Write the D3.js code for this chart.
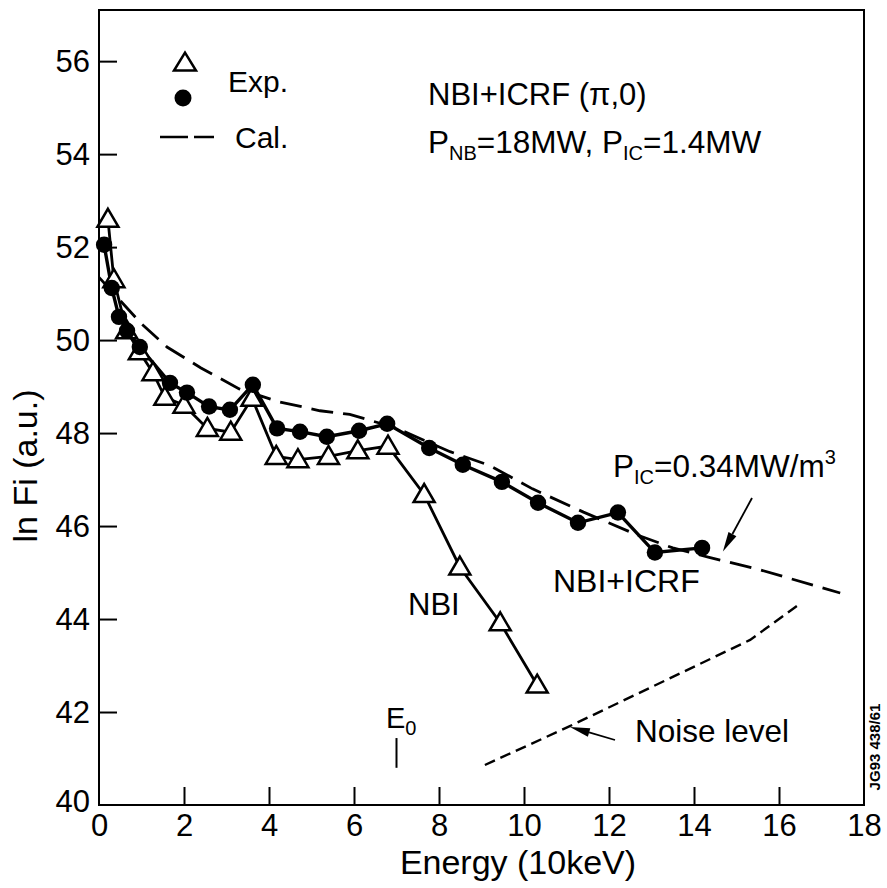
<!DOCTYPE html>
<html>
<head>
<meta charset="utf-8">
<script src="https://cdn.jsdelivr.net/npm/d3@7"></script>
<style>
  html, body { margin: 0; padding: 0; background: #fff; }
  svg { display: block; }
  text { font-family: "Liberation Sans", Arial, Helvetica, sans-serif; fill: #000; }
</style>
</head>
<body>
<svg id="chart" width="887" height="888"></svg>
<script>
// Fast-ion energy spectra: energy in units of 10 keV, ln Fi in arbitrary units.

// NBI only (open triangles)
const nbiEnergy = [0.21, 0.35, 0.65, 0.95, 1.27, 1.55, 2.0, 2.55, 3.1, 3.6, 4.17, 4.68, 5.4, 6.09, 6.8, 7.65, 8.49, 9.44, 10.31];
const nbiLnF    = [52.6, 51.3, 50.2, 49.75, 49.3, 48.77, 48.6, 48.1, 48.02, 48.75, 47.5, 47.43, 47.5, 47.62, 47.72, 46.68, 45.12, 43.92, 42.58];

// NBI + ICRF (filled circles)
const icrfEnergy = [0.12, 0.3, 0.47, 0.66, 0.96, 1.67, 2.07, 2.59, 3.08, 3.62, 4.19, 4.73, 5.36, 6.12, 6.78, 7.77, 8.56, 9.48, 10.33, 11.27, 12.21, 13.08, 14.19];
const icrfLnF    = [52.05, 51.12, 50.5, 50.2, 49.85, 49.08, 48.87, 48.57, 48.5, 49.04, 48.1, 48.03, 47.92, 48.05, 48.2, 47.68, 47.32, 46.95, 46.5, 46.07, 46.29, 45.43, 45.53];

// Calculated spectrum (long dashes)
const calEnergy = [0, 0.5, 1.0, 1.6, 2.4, 3.3, 4.2, 5.2, 5.9, 6.96, 8.26, 9.2, 10.2, 11.4, 12.66, 13.5, 14.38, 15.55, 17.44];
const calLnF    = [51.35, 50.85, 50.35, 49.85, 49.4, 48.95, 48.68, 48.48, 48.4, 48.12, 47.6, 47.3, 46.8, 46.3, 45.81, 45.53, 45.32, 45.06, 44.56];

// Detector noise level (short dashes)
const noiseEnergy = [9.08, 11.04, 15.32, 16.45];
const noiseLnF    = [40.86, 41.68, 43.55, 44.3];

const xTickValues = [0, 2, 4, 6, 8, 10, 12, 14, 16, 18];
const yTickValues = [40, 42, 44, 46, 48, 50, 52, 54, 56];
const E0 = 7.0;               // beam injection energy marker
const picArrowTip = [14.68, 45.45];
const noiseArrowTip = [11.08, 41.68];

const zip = (xs, ys) => xs.map((v, i) => [v, ys[i]]);
const nbi = zip(nbiEnergy, nbiLnF);
const icrf = zip(icrfEnergy, icrfLnF);
const cal = zip(calEnergy, calLnF);
const noise = zip(noiseEnergy, noiseLnF);

const svg = d3.select("#chart");
const plotLeft = 99, plotRight = 864, plotTop = 10, plotBottom = 805;

const x = d3.scaleLinear().domain([0, 18]).range([plotLeft, plotRight]);
const y = d3.scaleLinear().domain([40, 57.1]).range([plotBottom, plotTop]);

const line = d3.line().x(d => x(d[0])).y(d => y(d[1]));

// Frame
svg.append("rect")
  .attr("x", plotLeft).attr("y", plotTop)
  .attr("width", plotRight - plotLeft).attr("height", plotBottom - plotTop)
  .attr("fill", "none").attr("stroke", "#000").attr("stroke-width", 2);

// Axes with inward ticks
const xAxis = d3.axisBottom(x).tickValues(xTickValues).tickFormat(d3.format("d"))
  .tickSizeInner(-18).tickSizeOuter(0).tickPadding(9);
const gx = svg.append("g").attr("transform", `translate(0,${plotBottom})`).call(xAxis);
gx.select(".domain").remove();
gx.selectAll(".tick line").attr("stroke", "#000").attr("stroke-width", 2)
  .attr("display", d => (d === 0 || d === 18) ? "none" : null);
gx.selectAll(".tick text").attr("font-size", 31).attr("fill", "#000");
gx.attr("font-family", null).attr("font-size", null);

const yAxis = d3.axisLeft(y).tickValues(yTickValues).tickFormat(d3.format("d"))
  .tickSizeInner(-18).tickSizeOuter(0).tickPadding(9);
const gy = svg.append("g").attr("transform", `translate(${plotLeft},0)`).call(yAxis);
gy.select(".domain").remove();
gy.selectAll(".tick line").attr("stroke", "#000").attr("stroke-width", 2)
  .attr("display", d => d === 40 ? "none" : null);
gy.selectAll(".tick text").attr("font-size", 31).attr("fill", "#000")
  .attr("dy", d => d === 40 ? "0.22em" : "0.34em");
gy.attr("font-family", null).attr("font-size", null);

// Axis titles
svg.append("text").attr("x", 518).attr("y", 874).attr("text-anchor", "middle")
  .attr("font-size", 34).text("Energy (10keV)");
svg.append("text").attr("transform", "translate(37,466) rotate(-90)")
  .attr("text-anchor", "middle").attr("font-size", 34).text("ln Fi (a.u.)");

// Noise level and calculation
svg.append("path").datum(noise).attr("d", line)
  .attr("fill", "none").attr("stroke", "#000").attr("stroke-width", 2.4)
  .attr("stroke-dasharray", "11,6");
svg.append("path").datum(cal).attr("d", line)
  .attr("fill", "none").attr("stroke", "#000").attr("stroke-width", 2.8)
  .attr("stroke-dasharray", "22,10");

// Connecting lines of measured spectra
svg.append("path").datum(nbi).attr("d", line)
  .attr("fill", "none").attr("stroke", "#000").attr("stroke-width", 2.8);
svg.append("path").datum(icrf).attr("d", line)
  .attr("fill", "none").attr("stroke", "#000").attr("stroke-width", 3.4);

// Markers
const tri = (cx, cy, w, h) =>
  `M${cx},${cy - h * 0.58}L${cx + w / 2},${cy + h * 0.42}L${cx - w / 2},${cy + h * 0.42}Z`;

svg.append("g").selectAll("path").data(nbi).join("path")
  .attr("d", d => tri(x(d[0]), y(d[1]), 21, 18))
  .attr("fill", "#fff").attr("stroke", "#000").attr("stroke-width", 2.5)
  .attr("stroke-linejoin", "miter");

svg.append("g").selectAll("circle").data(icrf).join("circle")
  .attr("cx", d => x(d[0])).attr("cy", d => y(d[1])).attr("r", 8.2)
  .attr("fill", "#000");

// Legend
svg.append("path").attr("d", tri(185, 63, 22, 18))
  .attr("fill", "#fff").attr("stroke", "#000").attr("stroke-width", 2.5);
svg.append("circle").attr("cx", 183).attr("cy", 98).attr("r", 8.5).attr("fill", "#000");
svg.append("line").attr("x1", 160).attr("x2", 214).attr("y1", 137).attr("y2", 137)
  .attr("stroke", "#000").attr("stroke-width", 2.4).attr("stroke-dasharray", "28,6");
svg.append("text").attr("x", 228).attr("y", 92).attr("font-size", 30).text("Exp.");
svg.append("text").attr("x", 235).attr("y", 148).attr("font-size", 30).text("Cal.");

// Discharge conditions
svg.append("text").attr("x", 428).attr("y", 105).attr("font-size", 31).text("NBI+ICRF (\u03c0,0)");
const cond = svg.append("text").attr("x", 428).attr("y", 153).attr("font-size", 31.5);
cond.append("tspan").text("P");
cond.append("tspan").attr("font-size", 20).attr("dy", 7).text("NB");
cond.append("tspan").attr("dy", -7).text("=18MW, P");
cond.append("tspan").attr("font-size", 20).attr("dy", 7).text("IC");
cond.append("tspan").attr("dy", -7).text("=1.4MW");

// Curve labels
svg.append("text").attr("x", 408).attr("y", 615).attr("font-size", 31).text("NBI");
svg.append("text").attr("x", 553).attr("y", 592).attr("font-size", 32).text("NBI+ICRF");
svg.append("text").attr("x", 635).attr("y", 742).attr("font-size", 31.5).text("Noise level");

const pic = svg.append("text").attr("x", 613).attr("y", 477).attr("font-size", 31.5);
pic.append("tspan").text("P");
pic.append("tspan").attr("font-size", 20).attr("dy", 7).text("IC");
pic.append("tspan").attr("dy", -7).text("=0.34MW/m");
pic.append("tspan").attr("font-size", 20).attr("dy", -13).text("3");

// Arrows
function arrow(x1, y1, x2, y2) {
  const ang = Math.atan2(y2 - y1, x2 - x1);
  const len = 20, half = 4.5;
  const bx = x2 - len * Math.cos(ang), by = y2 - len * Math.sin(ang);
  svg.append("line").attr("x1", x1).attr("y1", y1).attr("x2", bx).attr("y2", by)
    .attr("stroke", "#000").attr("stroke-width", 1.8);
  const px = -Math.sin(ang) * half, py = Math.cos(ang) * half;
  svg.append("path")
    .attr("d", `M${x2},${y2}L${bx + px},${by + py}L${bx - px},${by - py}Z`)
    .attr("fill", "#000");
}
arrow(752, 498, x(picArrowTip[0]), y(picArrowTip[1]));
arrow(615, 740, x(noiseArrowTip[0]), y(noiseArrowTip[1]));

// E0 marker
svg.append("line").attr("x1", x(E0)).attr("x2", x(E0))
  .attr("y1", y(41.44)).attr("y2", y(40.8))
  .attr("stroke", "#000").attr("stroke-width", 2);
const e0 = svg.append("text").attr("x", 386).attr("y", 728).attr("font-size", 29);
e0.append("tspan").text("E");
e0.append("tspan").attr("font-size", 20).attr("dy", 7).text("0");

// Figure reference
svg.append("text").attr("transform", "translate(880,747) rotate(-90)")
  .attr("text-anchor", "middle").attr("font-size", 15).attr("font-weight", "bold")
  .text("JG93 438/61");
</script>
</body>
</html>
